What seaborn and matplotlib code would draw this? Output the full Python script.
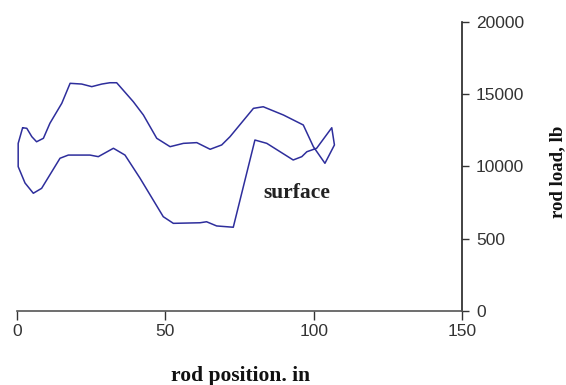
import matplotlib
matplotlib.use("Agg")
import matplotlib.pyplot as plt
import seaborn as sns
import pandas as pd

# Surface dynamometer card (closed loop)
rod_position = [1.9, 0.4, 0.4, 2.7, 5.5, 8.3, 14.5, 17.3, 24.6, 27.4, 32.5, 36.4,
                41.5, 49.3, 52.7, 61.7, 63.9, 67.3, 72.9, 80.2, 84.2, 93.1, 96.0,
                97.7, 101.0, 106.1, 107.0, 103.8, 99.9, 96.5, 89.8, 83.0, 79.7,
                71.8, 69.0, 65.1, 60.6, 56.1, 51.6, 47.1, 42.6, 39.2, 33.6, 31.3,
                28.6, 25.2, 21.8, 17.9, 15.1, 11.1, 8.9, 6.6, 5.0, 3.3, 1.9]
rod_load = [12670, 11590, 9980, 8850, 8140, 8480, 10560, 10780, 10780, 10670,
            11250, 10780, 9170, 6520, 6060, 6100, 6170, 5880, 5790, 11820, 11590,
            10440, 10670, 11010, 11250, 12670, 11480, 10210, 11360, 12860, 13550,
            14120, 14010, 12050, 11480, 11180, 11640, 11590, 11360, 11940, 13550,
            14470, 15780, 15780, 15690, 15510, 15690, 15740, 14360, 12980, 11940,
            11700, 12050, 12630, 12670]

x_ticks = [0, 50, 100, 150]
y_ticks = [0, 5000, 10000, 15000, 20000]
y_tick_labels = ["0", "500", "10000", "15000", "20000"]
annotation = "surface"

sns.set_style("white")
plt.rcParams["font.family"] = ["Liberation Sans", "DejaVu Sans"]

df = pd.DataFrame({"pos": rod_position, "load": rod_load})

fig = plt.figure(figsize=(5.66, 3.85), dpi=100)
ax = fig.add_axes([17 / 566, 74 / 385, 445 / 566, 289.3 / 385])
sns.lineplot(data=df, x="pos", y="load", sort=False, estimator=None,
             color="#2e2e9c", linewidth=1.1, ax=ax)

ax.set_xlim(0, 150)
ax.set_ylim(0, 20000)
ax.set_xticks(x_ticks)
ax.set_xticklabels([str(t) for t in x_ticks])
ax.set_yticks(y_ticks)
ax.set_yticklabels(y_tick_labels)

ax.yaxis.tick_right()
for s in ["top", "left"]:
    ax.spines[s].set_visible(False)
ax.spines["bottom"].set_color("#555555")
ax.spines["right"].set_color("#222222")
ax.spines["bottom"].set_linewidth(1.2)
ax.spines["right"].set_linewidth(1.2)
ax.tick_params(axis="x", direction="out", length=6.5, width=1, color="#333333",
               labelsize=12.5, labelcolor="#333333", pad=2.5, bottom=True)
ax.tick_params(axis="y", direction="out", length=5, width=1, color="#333333",
               labelsize=12.5, labelcolor="#333333", pad=5, right=True, left=False)

serif = ["Liberation Serif", "DejaVu Serif"]
ax.set_xlabel("")
ax.set_ylabel("")
fig.text(241 / 566, (385 - 381) / 385, "rod position. in", fontfamily=serif,
         fontweight="bold", fontsize=15.5, ha="center", va="baseline", color="#111111")
fig.text(558 / 566, (385 - 172) / 385, "rod load, lb", fontfamily=serif,
         fontweight="bold", fontsize=13.5, ha="center", va="center", rotation=90,
         color="#111111")

ax.text(94.4, 7790, annotation, fontfamily=serif, fontweight="bold", fontsize=15.5,
        ha="center", va="baseline", color="#222222")

ax.set_facecolor("white")
fig.patch.set_facecolor("white")
fig.savefig("out.png", dpi=100)
